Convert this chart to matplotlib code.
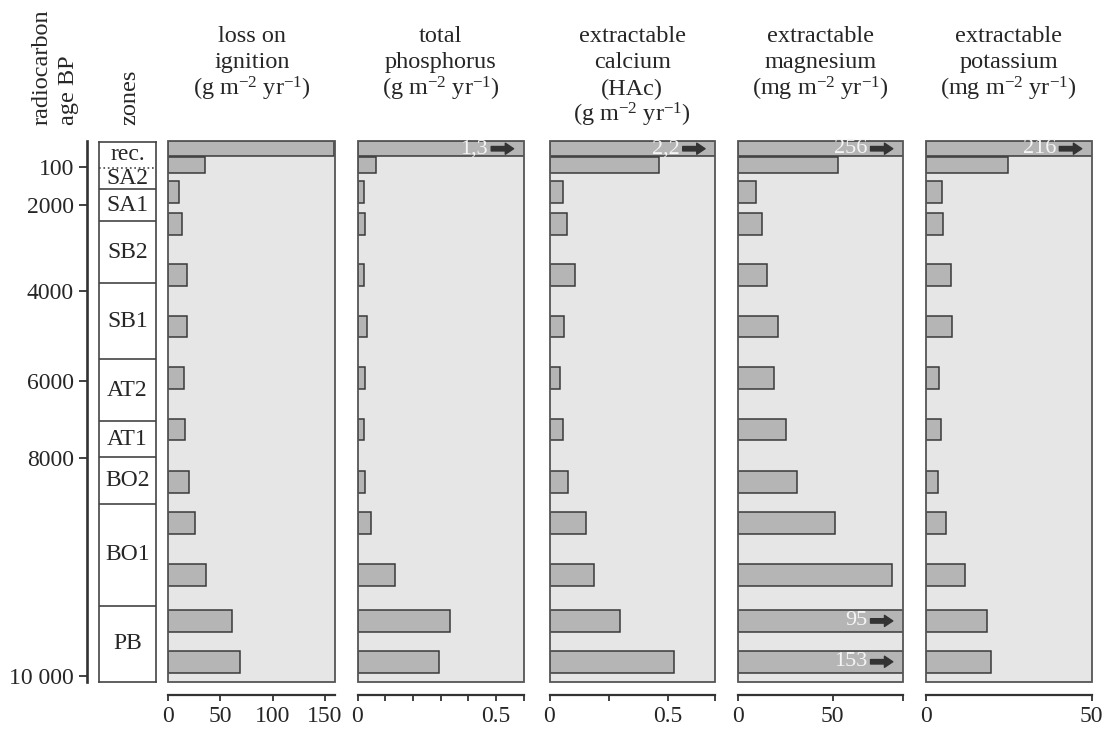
import matplotlib
matplotlib.use("Agg")
import matplotlib.pyplot as plt
from matplotlib.patches import Rectangle
from matplotlib.transforms import blended_transform_factory

plt.rcParams['font.family'] = ['Liberation Serif', 'DejaVu Serif']
plt.rcParams['mathtext.fontset'] = 'custom'
plt.rcParams['mathtext.rm'] = 'Liberation Serif'
plt.rcParams['mathtext.it'] = 'Liberation Serif:italic'
plt.rcParams['mathtext.bf'] = 'Liberation Serif:bold'
plt.rcParams['text.color'] = '#262626'

# ---------------------------------------------------------
# data (depth in core units, 0 = top of section)
# ---------------------------------------------------------
zone_names = ['rec.', 'SA2', 'SA1', 'SB2', 'SB1', 'AT2', 'AT1', 'BO2', 'BO1', 'PB']
zone_bounds = [0, 13, 23.8, 39.5, 70.8, 108.7, 139.5, 157.8, 181.2, 231.8, 270]

age_labels = ['100', '2000', '4000', '6000', '8000', '10 000']
age_depth = [13, 31.7, 75, 119.5, 158, 266.8]

sample_depth = [3.75, 11.9, 25.5, 41.2, 66.9, 92.5, 118.2, 144, 170, 190.7, 216.5, 239.5, 259.9]

loi = [159, 34.7, 10.2, 12.7, 17.5, 17.5, 15.2, 16.2, 19.7, 26, 36, 61, 69]
phosphorus = [1.3, 0.0685, 0.022, 0.0265, 0.024, 0.034, 0.0265, 0.022, 0.0265, 0.048, 0.135, 0.335, 0.295]
calcium = [2.2, 0.464, 0.056, 0.075, 0.107, 0.063, 0.046, 0.056, 0.077, 0.153, 0.19, 0.297, 0.528]
magnesium = [256, 52.8, 9.9, 12.7, 15.7, 21.5, 19, 25.4, 31.5, 51.4, 81.3, 95, 153]
potassium = [216, 24.7, 5.0, 5.1, 7.5, 7.8, 4.0, 4.7, 3.8, 6.0, 11.8, 18.4, 19.7]

units_g = '(g m$^{-2}$ yr$^{-1}$)'
units_mg = '(mg m$^{-2}$ yr$^{-1}$)'
headers = [['loss on', 'ignition', units_g],
           ['total', 'phosphorus', units_g],
           ['extractable', 'calcium', '(HAc)', units_g],
           ['extractable', 'magnesium', units_mg],
           ['extractable', 'potassium', units_mg]]
series = [loi, phosphorus, calcium, magnesium, potassium]
xmax = [160, 0.6, 0.7, 87, 50]
xticks = [[0, 50, 100, 150],
          [0, 0.1, 0.2, 0.3, 0.4, 0.5, 0.6],
          [0, 0.25, 0.5, 0.7],
          [0, 50, 87],
          [0, 50]]
xticklabels = [['0', '50', '100', '150'],
               ['0', '', '', '', '', '0.5', ''],
               ['0', '', '0.5', ''],
               ['0', '50', ''],
               ['0', '50']]

# ---------------------------------------------------------
# layout (pixels)
# ---------------------------------------------------------
W, H = 1108, 729
TOP, BOT = 141.2, 682
panel_left = [168.3, 357.5, 549.5, 737.7, 925.7]
panel_right = [335.3, 523.6, 715.0, 902.7, 1091.7]
bar_height = [7.5, 8.2] + [10.8] * 11

EDGE = '#3a3a3a'
FONT = 17
HEAD = 17.5


def box(l, t, r, b):
    return [l / W, 1 - b / H, (r - l) / W, (b - t) / H]


fig = plt.figure(figsize=(W / 100, H / 100), dpi=100)

# age scale
ax_age = fig.add_axes(box(87.3, TOP, 88.3, BOT))
ax_age.set_ylim(270, 0)
ax_age.set_xticks([])
for s in ['top', 'right', 'bottom']:
    ax_age.spines[s].set_visible(False)
ax_age.spines['left'].set_linewidth(1.9)
ax_age.spines['left'].set_color('#333333')
ax_age.patch.set_visible(False)
ax_age.set_yticks(age_depth)
ax_age.set_yticklabels(age_labels)
ax_age.tick_params(axis='y', length=6, width=1.3, color='#333333', pad=3.5, labelsize=FONT,
                   labelcolor='#262626')

# zones column
ax_z = fig.add_axes(box(98.7, TOP + 0.5, 156, BOT))
ax_z.set_ylim(270, 0)
ax_z.set_xlim(0, 1)
ax_z.set_xticks([])
ax_z.set_yticks([])
for s in ax_z.spines.values():
    s.set_color('#444444')
    s.set_linewidth(1.2)
for b in zone_bounds[1:-1]:
    ls = ':' if b == zone_bounds[1] else '-'
    ax_z.axhline(b, color='#444444', lw=1.2, ls=ls)
for name, a, b in zip(zone_names, zone_bounds[:-1], zone_bounds[1:]):
    ax_z.text(0.5, (a + b) / 2, name, ha='center', va='center', fontsize=FONT)

# rotated column headers
for x, txt in [(48, 'radiocarbon'), (74, 'age BP'), (135, 'zones')]:
    fig.text(x / W, 1 - 125 / H, txt, rotation=90, rotation_mode='anchor',
             ha='left', va='baseline', fontsize=HEAD)

# bar panels
for k in range(5):
    vals = series[k]
    ax = fig.add_axes(box(panel_left[k], TOP, panel_right[k], BOT))
    ax.set_facecolor('#e6e6e6')
    ax.barh(sample_depth, vals, height=bar_height, color='#b5b5b5', edgecolor=EDGE,
            linewidth=1.1, zorder=2)
    ax.set_xlim(0, xmax[k])
    ax.set_ylim(270, 0)
    ax.add_patch(Rectangle((0, 0), 1, 1, transform=ax.transAxes, fill=False,
                           ec='#555555', lw=1.3, zorder=4, clip_on=False))
    for s in ['top', 'left', 'right']:
        ax.spines[s].set_visible(False)
    ax.spines['bottom'].set_position(('outward', 9.5))
    ax.spines['bottom'].set_linewidth(1.6)
    ax.spines['bottom'].set_color('#333333')
    ax.set_yticks([])
    ax.set_xticks(xticks[k])
    ax.set_xticklabels(xticklabels[k])
    ax.tick_params(axis='x', length=4, width=1.3, color='#333333', pad=4,
                   labelsize=FONT, labelcolor='#262626')

    # off-scale values
    trans = blended_transform_factory(ax.transAxes, ax.transData)
    for d, v in zip(sample_depth, vals):
        if v > xmax[k]:
            label = f"{v:g}".replace('.', ',')
            ax.text(0.785, d, label, transform=trans, ha='right', va='center',
                    color='#f5f5f5', fontsize=16, zorder=5)
            ax.annotate('', xy=(0.94, d), xytext=(0.805, d), xycoords=trans, textcoords=trans,
                        arrowprops=dict(arrowstyle='simple,head_length=0.6,head_width=0.8,tail_width=0.32',
                                        fc='#333333', ec='#333333', mutation_scale=10,
                                        shrinkA=0, shrinkB=0), zorder=5)

    cx = (panel_left[k] + panel_right[k]) / 2
    for i, line in enumerate(headers[k]):
        fig.text(cx / W, 1 - (41.7 + 26.7 * i) / H, line, ha='center', va='baseline',
                 fontsize=HEAD)

fig.savefig('out.png', dpi=100)
